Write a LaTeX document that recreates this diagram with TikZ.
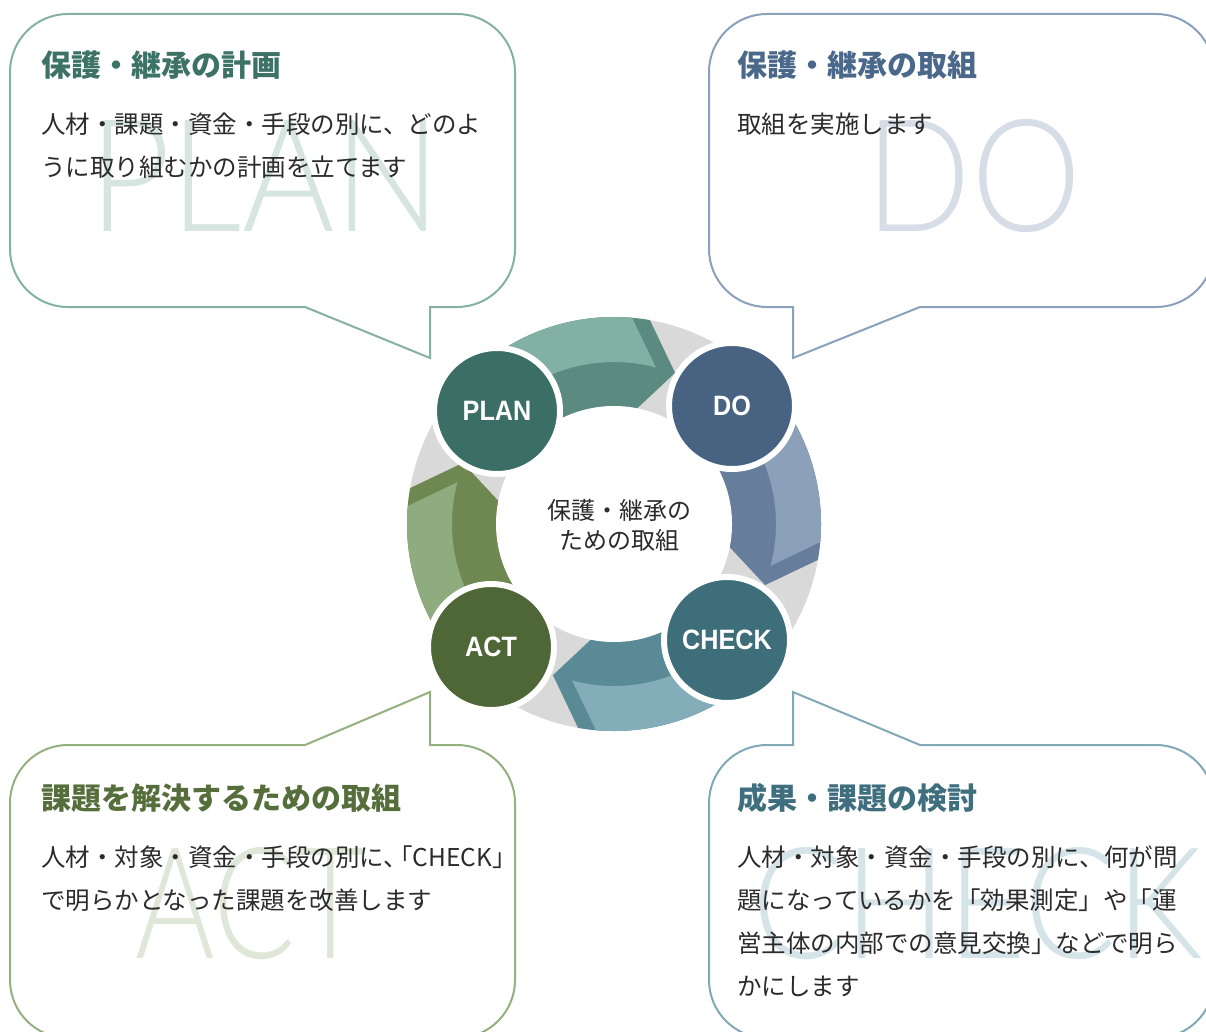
\documentclass[tikz,border=0pt]{standalone}
\usepackage{fontspec}
\usepackage{graphicx}
\setmainfont{Noto Sans CJK JP}
\newfontfamily\jp{Noto Sans CJK JP}
\newfontfamily\lab{Liberation Sans}
\newfontfamily\wm{Lato Light}
\definecolor{txt}{HTML}{2B2B2B}
\definecolor{ringgray}{HTML}{D9D9D9}
% PLAN
\definecolor{planB}{HTML}{84B1A4}
\definecolor{planT}{HTML}{3D7266}
\definecolor{planW}{HTML}{D6E5E0}
\definecolor{planC}{HTML}{3B6F66}
\definecolor{topL}{HTML}{83B0A5}
\definecolor{topD}{HTML}{5B8B80}
% DO
\definecolor{doB}{HTML}{8BA0BB}
\definecolor{doT}{HTML}{4A688A}
\definecolor{doW}{HTML}{D7DDE7}
\definecolor{doC}{HTML}{476381}
\definecolor{rgtL}{HTML}{8DA0BA}
\definecolor{rgtD}{HTML}{677D9C}
% CHECK
\definecolor{chkB}{HTML}{82A9B6}
\definecolor{chkT}{HTML}{3F6F7F}
\definecolor{chkW}{HTML}{D5E4E9}
\definecolor{chkC}{HTML}{3D6E7A}
\definecolor{botL}{HTML}{83ADB9}
\definecolor{botD}{HTML}{5A8A96}
% ACT
\definecolor{actB}{HTML}{94B07F}
\definecolor{actT}{HTML}{566E3B}
\definecolor{actW}{HTML}{DFE7D8}
\definecolor{actC}{HTML}{4F6737}
\definecolor{lftL}{HTML}{8FAC7E}
\definecolor{lftD}{HTML}{6F8751}
\begin{document}
\begin{tikzpicture}[x=1pt,y=1pt,
  bubble/.style={line width=2pt, fill=white, line join=miter},
  bodytext/.style={anchor=base west, inner sep=0pt, text=txt, font=\jp\fontsize{24.5}{30}\selectfont},
  titletext/.style={anchor=base west, inner sep=0pt, font=\jp\bfseries\fontsize{30}{36}\selectfont},
  wmk/.style={anchor=south west, inner sep=0pt},
  phase/.style={circle, minimum size=126pt, inner sep=0pt, draw=white, line width=6pt, text=white, font=\lab\bfseries\fontsize{28}{28}\selectfont}
]
\useasboundingbox (0,0) rectangle (1206,-1032);
\clip (0,0) rectangle (1206,-1032);

% ---------- bubbles ----------
% PLAN
\draw[bubble, draw=planB] (10,-72) arc[start angle=180,end angle=90,radius=58] -- (457,-14)
  arc[start angle=90,end angle=0,radius=58] -- (515,-249) arc[start angle=0,end angle=-90,radius=58]
  -- (430,-307) -- (430,-358) -- (305,-307) -- (68,-307) arc[start angle=270,end angle=180,radius=58] -- cycle;
% DO
\draw[bubble, draw=doB] (709,-72) arc[start angle=180,end angle=90,radius=58] -- (1156,-14)
  arc[start angle=90,end angle=0,radius=58] -- (1214,-249) arc[start angle=0,end angle=-90,radius=58]
  -- (920,-307) -- (793,-358) -- (793,-307) -- (767,-307) arc[start angle=270,end angle=180,radius=58] -- cycle;
% ACT
\draw[bubble, draw=actB] (10,-803) arc[start angle=180,end angle=90,radius=58] -- (305,-745)
  -- (430,-692) -- (430,-745) -- (457,-745) arc[start angle=90,end angle=0,radius=58] -- (515,-980)
  arc[start angle=0,end angle=-90,radius=58] -- (68,-1038) arc[start angle=270,end angle=180,radius=58] -- cycle;
% CHECK
\draw[bubble, draw=chkB] (709,-803) arc[start angle=180,end angle=90,radius=58] -- (793,-745)
  -- (793,-692) -- (920,-745) -- (1156,-745) arc[start angle=90,end angle=0,radius=58] -- (1214,-980)
  arc[start angle=0,end angle=-90,radius=58] -- (767,-1038) arc[start angle=270,end angle=180,radius=58] -- cycle;

% ---------- watermarks ----------
\node[wmk, text=planW] (wmplan) at (89,-232) {\resizebox{352pt}{111pt}{\wm PLAN}};
\node[wmk, text=doW] (wmdo) at (865,-233) {\resizebox{216pt}{112pt}{\wm DO}};
\node[wmk, text=actW] (wmact) at (135,-960) {\resizebox{230pt}{111pt}{\wm ACT}};
\node[wmk, text=chkW] (wmchk) at (752,-960) {\resizebox{450pt}{111pt}{\wm CHECK}};

% ---------- texts ----------
\node[titletext, text=planT] (tplan) at (41,-76.4) {保護・継承の計画};
\node[bodytext] (bplan1) at (41,-133.3) {人材・課題・資金・手段の別に、どのよ};
\node[bodytext] (bplan2) at (41,-176.3) {うに取り組むかの計画を立てます};

\node[titletext, text=doT] (tdo) at (737,-76.4) {保護・継承の取組};
\node[bodytext] (bdo1) at (737,-133.3) {取組を実施します};

\node[titletext, text=actT] (tact) at (41,-809.4) {課題を解決するための取組};
\node[bodytext] (bact1) at (41,-866.3) {人材・対象・資金・手段の別に、\kern-0.8em「CHECK」};
\node[bodytext] (bact2) at (41,-909.3) {で明らかとなった課題を改善します};

\node[titletext, text=chkT] (tchk) at (737,-809.4) {成果・課題の検討};
\node[bodytext] (bchk1) at (737,-866.3) {人材・対象・資金・手段の別に、何が問};
\node[bodytext] (bchk2) at (737,-909.3) {題になっているかを「効果測定」や「運};
\node[bodytext] (bchk3) at (737,-952.3) {営主体の内部での意見交換」などで明ら};
\node[bodytext] (bchk4) at (737,-995.3) {かにします};

% ---------- ring ----------
\begin{scope}[shift={(614,-524)}]
  \fill[ringgray] (0,0) circle (207);
  \foreach \rot/\lc/\dc in {0/topL/topD, -90/rgtL/rgtD, -180/botL/botD, -270/lftL/lftD} {
    \begin{scope}[rotate=\rot]
      \fill[\dc] (135:117) -- (135:207) arc[start angle=135,end angle=80,radius=207]
        -- (68:163) -- (79:117) arc[start angle=79,end angle=135,radius=117] -- cycle;
      \fill[\lc] (135:162) -- (135:207) arc[start angle=135,end angle=85,radius=207]
        -- (75:162) arc[start angle=75,end angle=135,radius=162] -- cycle;
    \end{scope}
  }
  \fill[white] (0,0) circle (118);
\end{scope}

\node[align=center, text=txt, font=\jp\fontsize{24}{30}\selectfont] (hub) at (619,-525) {保護・継承の\\ための取組};

\node[phase, fill=planC] (plan) at (497,-411) {\scalebox{0.9}[1]{PLAN}};
\node[phase, fill=doC] (do) at (732,-406) {\scalebox{0.9}[1]{DO}};
\node[phase, fill=chkC] (check) at (727,-640) {\scalebox{0.9}[1]{CHECK}};
\node[phase, fill=actC] (act) at (491,-647) {\scalebox{0.9}[1]{ACT}};
\end{tikzpicture}
\end{document}
